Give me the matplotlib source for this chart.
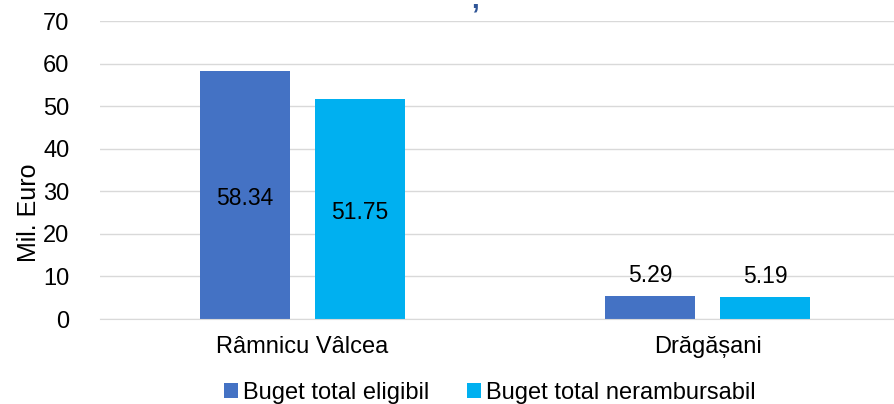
import matplotlib.pyplot as plt
import numpy as np

plt.rcParams["font.family"] = ["Liberation Sans", "DejaVu Sans"]

categories = ["Râmnicu Vâlcea", "Drăgășani"]
series_names = ["Buget total eligibil", "Buget total nerambursabil"]
eligibil = [58.34, 5.29]
nerambursabil = [51.75, 5.19]
colors = ["#4472C4", "#00B0F0"]

fig = plt.figure(figsize=(8.94, 4.04), dpi=100)
ax = fig.add_axes([100 / 894, 85 / 404, 810 / 894, 298 / 404])

x = np.arange(len(categories))
w = 0.222
off = 0.142
bars1 = ax.bar(x - off, eligibil, w, color=colors[0], label=series_names[0])
bars2 = ax.bar(x + off, nerambursabil, w, color=colors[1], label=series_names[1])

for bars in (bars1, bars2):
    for b in bars:
        v = b.get_height()
        cx = b.get_x() + b.get_width() / 2
        if v > 20:
            ax.text(cx, v / 2 - 0.8, f"{v:.2f}", ha="center", va="center", fontsize=16.5)
        else:
            ax.text(cx, v + 2.2, f"{v:.2f}", ha="center", va="bottom", fontsize=16.5)

ax.set_xlim(-0.5, 1.5)
ax.set_ylim(0, 70)
ax.set_yticks(range(0, 71, 10))
ax.yaxis.grid(True, color="#D9D9D9", linewidth=1)
ax.set_axisbelow(True)
for s in ["top", "right", "left"]:
    ax.spines[s].set_visible(False)
ax.spines["bottom"].set_color("#D9D9D9")
ax.tick_params(axis="y", length=0, labelsize=17, pad=22)
ax.tick_params(axis="x", length=0, labelsize=17, pad=12)
ax.set_xticks(x)
ax.set_xticklabels(categories)
ax.set_ylabel("Mil. Euro", fontsize=18)
ax.yaxis.set_label_coords(-0.073, 0.356)

# fragment of the cut-off title
fig.text(475 / 894, 1.0, ",", color="#2F5597", fontsize=20, fontweight="bold",
         ha="center", va="center")

fig.legend(loc="lower center", bbox_to_anchor=(490 / 894, -0.052), ncol=2,
           frameon=False, fontsize=17, handlelength=0.6, handleheight=0.6,
           columnspacing=1.6, handletextpad=0.2)

fig.savefig("out.png", dpi=100)
